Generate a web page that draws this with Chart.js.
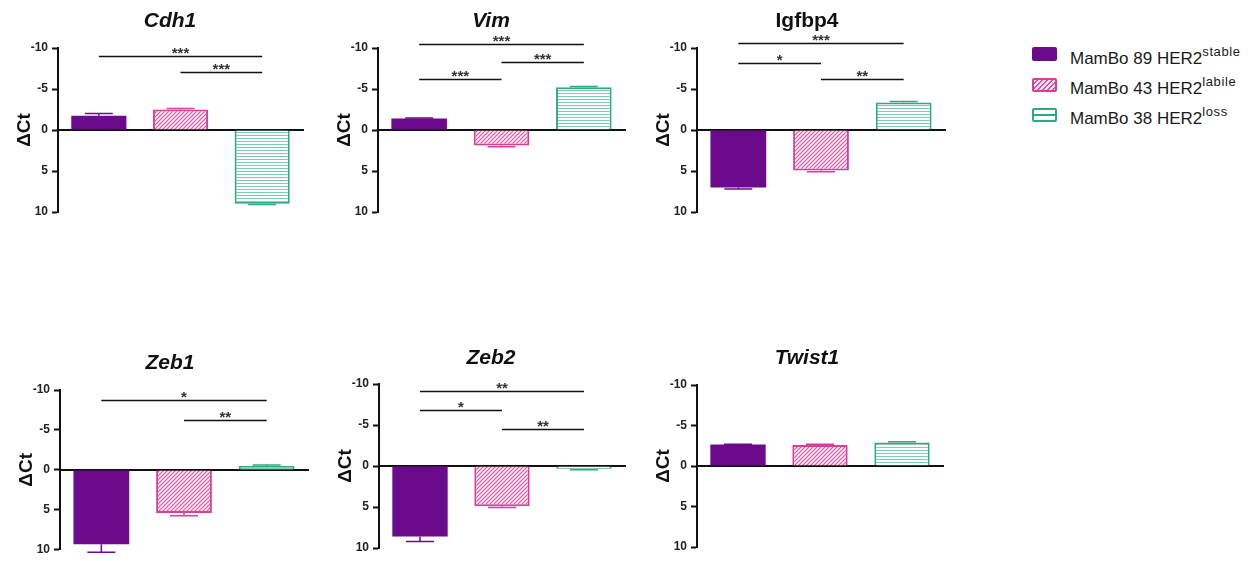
<!DOCTYPE html>
<html>
<head>
<meta charset="utf-8">
<script src="https://cdn.jsdelivr.net/npm/chart.js@4.4.0/dist/chart.umd.min.js"></script>
<style>
    html, body { margin: 0; padding: 0; background: #fff; }
    body { width: 1256px; height: 561px; position: relative; overflow: hidden; font-family: Arial, "Liberation Sans", sans-serif; }
    canvas.panel { position: absolute; }
    .sw { position: absolute; left: 1032px; width: 25px; height: 14px; box-sizing: border-box; border-radius: 2px; }
    .lg { position: absolute; left: 1070px; font-size: 17px; line-height: 17px; color: #1a1a1a; white-space: nowrap; }
    .lg span { font-size: 13px; position: relative; top: -8px; letter-spacing: 0.6px; }
</style>
</head>
<body>

<div class="sw" style="top:47px;background:#6c0a8c;"></div>
<div class="sw" style="top:78px;border:2px solid #d6409a;background:repeating-linear-gradient(135deg,#fbe3f1 0 2px,#d9549f 2px 3.5px);"></div>
<div class="sw" style="top:108px;border:2px solid #2eaa80;background:linear-gradient(#fff 0 4px,#2eaa80 4px 6px,#fff 6px);"></div>
<div class="lg" style="top:50px;">MamBo 89 HER2<span>stable</span></div>
<div class="lg" style="top:80px;">MamBo 43 HER2<span>labile</span></div>
<div class="lg" style="top:110px;">MamBo 38 HER2<span>loss</span></div>

<script>
    'use strict';

    // cell lines (x categories), same order in every panel
    var cellLines = ['MamBo 89 HER2 stable', 'MamBo 43 HER2 labile', 'MamBo 38 HER2 loss'];
    var yTicks = [-10, -5, 0, 5, 10];

    // mean dCt per cell line, and its error bar
    var cdh1Dct = [-1.75, -2.5, 9.0];
    var cdh1Err = [0.25, 0.12, 0.1];
    var vimDct = [-1.4, 1.9, -5.2];
    var vimErr = [0.05, 0.15, 0.1];
    var igfbp4Dct = [7.0, 4.95, -3.35];
    var igfbp4Err = [0.2, 0.15, 0.12];
    var zeb1Dct = [9.3, 5.4, -0.5];
    var zeb1Err = [1.0, 0.35, 0.12];
    var zeb2Dct = [8.6, 4.9, 0.35];
    var zeb2Err = [0.6, 0.15, 0.1];
    var twist1Dct = [-2.65, -2.6, -2.9];
    var twist1Err = [0.05, 0.1, 0.1];

    // significance brackets: [from, to, dCt level, stars]
    var cdh1Sig = [[0, 2, -9.0, '***'], [1, 2, -7.1, '***']];
    var vimSig = [[0, 2, -10.5, '***'], [1, 2, -8.25, '***'], [0, 1, -6.2, '***']];
    var igfbp4Sig = [[0, 2, -10.55, '***'], [0, 1, -8.2, '*'], [1, 2, -6.25, '**']];
    var zeb1Sig = [[0, 2, -8.7, '*'], [1, 2, -6.25, '**']];
    var zeb2Sig = [[0, 2, -9.2, '**'], [0, 1, -6.8, '*'], [1, 2, -4.5, '**']];
    var twist1Sig = [];

    var purple = '#6c0a8c';
    var pink = '#d6409a';
    var green = '#2eaa80';

    function makePattern(bg, line, size, diagonal) {
        var c = document.createElement('canvas');
        c.width = size;
        c.height = size;
        var g = c.getContext('2d');
        g.fillStyle = bg;
        g.fillRect(0, 0, size, size);
        if (diagonal) {
            g.strokeStyle = line;
            g.lineWidth = 1.1;
            g.beginPath();
            g.moveTo(0, size); g.lineTo(size, 0);
            g.moveTo(-1, 1); g.lineTo(1, -1);
            g.moveTo(size - 1, size + 1); g.lineTo(size + 1, size - 1);
            g.stroke();
        } else {
            g.fillStyle = line;
            g.fillRect(0, 0, size, 1);
        }
        return g.createPattern(c, 'repeat');
    }

    var pinkHatch = makePattern('#fdf0f7', '#d9549f', 4, true);
    var greenLines = makePattern('#ffffff', '#7fcdb0', 3, false);
    var fills = [purple, pinkHatch, greenLines];
    var borders = [purple, pink, green];

    // panel boxes on the page (pixels)
    var panels = [
        { gene: 'Cdh1', italic: true, dct: cdh1Dct, err: cdh1Err, sig: cdh1Sig,
          left: 0, top: 0, width: 320, height: 230, axisX: 58, rightX: 303, topY: 48, bottomY: 212, titleX: 170, titleY: 27 },
        { gene: 'Vim', italic: true, dct: vimDct, err: vimErr, sig: vimSig,
          left: 320, top: 0, width: 320, height: 230, axisX: 378, rightX: 625, topY: 48, bottomY: 212, titleX: 491, titleY: 27 },
        { gene: 'Igfbp4', italic: false, dct: igfbp4Dct, err: igfbp4Err, sig: igfbp4Sig,
          left: 630, top: 0, width: 330, height: 230, axisX: 697, rightX: 945, topY: 48, bottomY: 212, titleX: 807, titleY: 27 },
        { gene: 'Zeb1', italic: true, dct: zeb1Dct, err: zeb1Err, sig: zeb1Sig,
          left: 0, top: 330, width: 320, height: 231, axisX: 60, rightX: 308, topY: 390, bottomY: 552, titleX: 170, titleY: 369 },
        { gene: 'Zeb2', italic: true, dct: zeb2Dct, err: zeb2Err, sig: zeb2Sig,
          left: 320, top: 330, width: 320, height: 231, axisX: 379, rightX: 625, topY: 384, bottomY: 548, titleX: 491, titleY: 364 },
        { gene: 'Twist1', italic: true, dct: twist1Dct, err: twist1Err, sig: twist1Sig,
          left: 630, top: 330, width: 330, height: 231, axisX: 697, rightX: 943, topY: 385, bottomY: 547, titleX: 807, titleY: 364 }
    ];

    var Y_AXIS_WIDTH = 50;

    // error bars, significance brackets and the gene title
    function extrasPlugin(p) {
        return {
            id: 'extras',
            afterDatasetsDraw: function (chart) {
                var ctx = chart.ctx;
                var yScale = chart.scales.y;
                var meta = chart.getDatasetMeta(0);
                ctx.save();
                p.err.forEach(function (e, i) {
                    var v = p.dct[i];
                    var sign = v < 0 ? -1 : 1;
                    var x = meta.data[i].x;
                    var y0 = yScale.getPixelForValue(v);
                    var y1 = yScale.getPixelForValue(v + sign * e);
                    ctx.strokeStyle = borders[i];
                    ctx.lineWidth = 1.5;
                    ctx.beginPath();
                    ctx.moveTo(x, y0);
                    ctx.lineTo(x, y1);
                    ctx.moveTo(x - 14, y1);
                    ctx.lineTo(x + 14, y1);
                    ctx.stroke();
                });
                ctx.restore();
            },
            afterDraw: function (chart) {
                var ctx = chart.ctx;
                var yScale = chart.scales.y;
                var meta = chart.getDatasetMeta(0);
                ctx.save();
                p.sig.forEach(function (s) {
                    var x1 = meta.data[s[0]].x;
                    var x2 = meta.data[s[1]].x;
                    var y = Math.round(yScale.getPixelForValue(s[2])) + 0.5;
                    ctx.strokeStyle = '#111';
                    ctx.lineWidth = 1.6;
                    ctx.beginPath();
                    ctx.moveTo(x1, y);
                    ctx.lineTo(x2, y);
                    ctx.stroke();
                    ctx.fillStyle = '#333';
                    ctx.font = 'bold 15px Arial';
                    ctx.textAlign = 'center';
                    ctx.textBaseline = 'alphabetic';
                    ctx.fillText(s[3], (x1 + x2) / 2, y + 1);
                });
                ctx.fillStyle = '#111';
                ctx.font = (p.italic ? 'italic ' : '') + 'bold 21px Arial';
                ctx.textAlign = 'center';
                ctx.textBaseline = 'alphabetic';
                ctx.fillText(p.gene, p.titleX - p.left, p.titleY - p.top);
                ctx.restore();
            }
        };
    }

    function buildPanel(p) {
        var canvas = document.createElement('canvas');
        canvas.className = 'panel';
        canvas.width = p.width;
        canvas.height = p.height;
        canvas.style.left = p.left + 'px';
        canvas.style.top = p.top + 'px';
        canvas.style.width = p.width + 'px';
        canvas.style.height = p.height + 'px';
        document.body.appendChild(canvas);

        return new Chart(canvas, {
            type: 'bar',
            data: {
                labels: cellLines,
                datasets: [{
                    data: p.dct,
                    backgroundColor: fills,
                    borderColor: borders,
                    borderWidth: [0, 2, 2],
                    barPercentage: 0.675,
                    categoryPercentage: 1
                }]
            },
            options: {
                responsive: false,
                animation: false,
                devicePixelRatio: 1,
                layout: {
                    padding: {
                        left: p.axisX - p.left - Y_AXIS_WIDTH,
                        right: p.left + p.width - p.rightX,
                        top: p.topY - p.top,
                        bottom: p.top + p.height - p.bottomY
                    }
                },
                scales: {
                    x: {
                        position: { y: 0 },
                        grid: { display: false },
                        ticks: { display: false },
                        border: { color: '#111', width: 2 }
                    },
                    y: {
                        reverse: true,
                        min: -10,
                        max: 10,
                        afterBuildTicks: function (scale) {
                            scale.ticks = yTicks.map(function (v) { return { value: v }; });
                        },
                        afterFit: function (scale) {
                            scale.width = Y_AXIS_WIDTH;
                        },
                        ticks: {
                            color: '#222',
                            padding: 4,
                            font: { family: 'Arial', weight: 'bold', size: 12 }
                        },
                        grid: {
                            drawOnChartArea: false,
                            drawTicks: true,
                            tickLength: 6,
                            tickWidth: 2,
                            tickColor: '#111'
                        },
                        border: { color: '#111', width: 2 },
                        title: {
                            display: true,
                            text: '\u0394Ct',
                            color: '#111',
                            font: { family: 'Arial', weight: 'bold', size: 19 },
                            padding: { top: 5.6, bottom: 0 }
                        }
                    }
                },
                plugins: {
                    legend: { display: false },
                    tooltip: { enabled: false },
                    title: { display: false }
                }
            },
            plugins: [extrasPlugin(p)]
        });
    }

    panels.forEach(buildPanel);
</script>
</body>
</html>
